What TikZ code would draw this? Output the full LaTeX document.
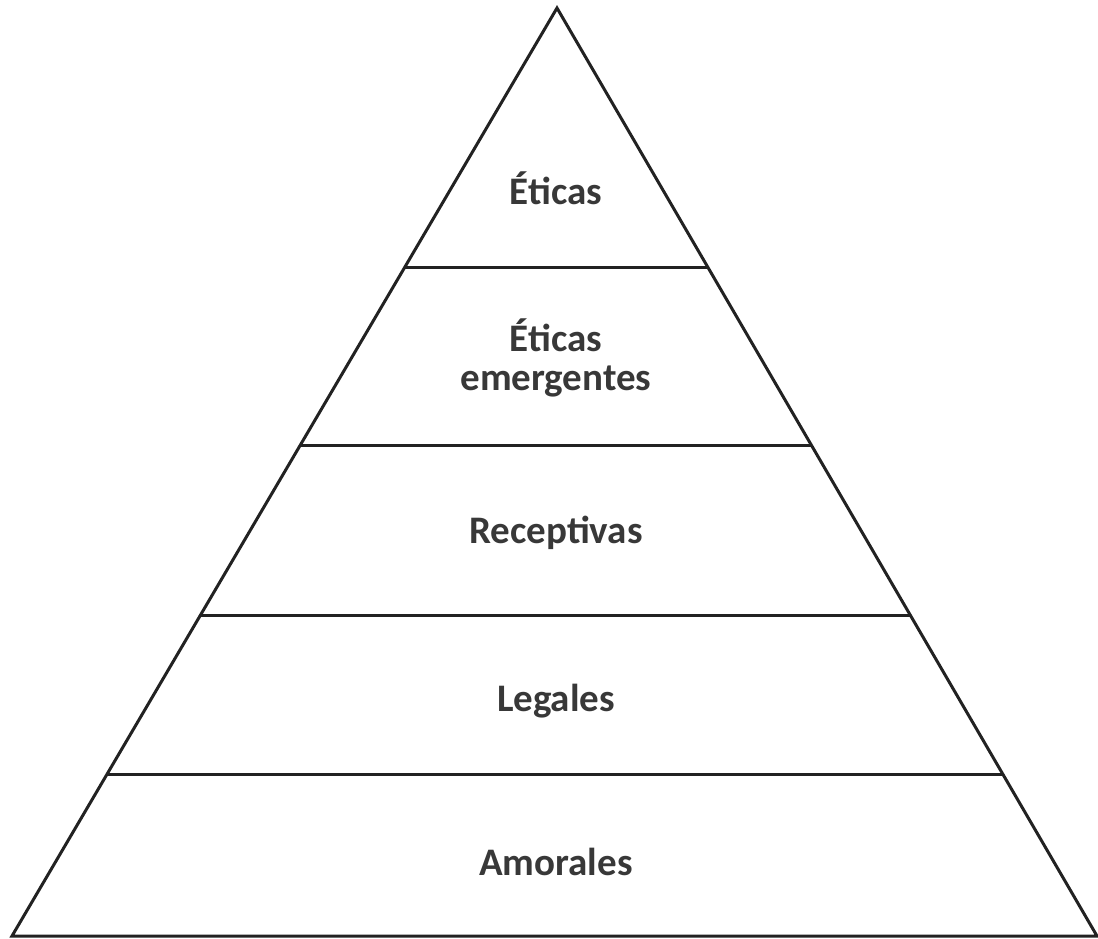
\documentclass[tikz,border=0pt]{standalone}
\usepackage{fontspec}
\setmainfont{Carlito}
\definecolor{txtgray}{HTML}{383838}
\definecolor{linegray}{HTML}{222222}
\begin{document}
\begin{tikzpicture}[x=0.5pt,y=-0.5pt,
	level/.style={font=\bfseries\fontsize{19.5}{19.5}\selectfont, text=txtgray, align=center},
	edge/.style={draw=linegray, line width=1.5pt}]
		\useasboundingbox (0,0) rectangle (1098,938);
		\coordinate (top) at (557,8);
		\coordinate (bl) at (12,936);
		\coordinate (br) at (1097,936);
		\draw[edge, line join=miter] (top) -- (bl) -- (br) -- cycle;
		
		\coordinate (l1) at (405,267);  \coordinate (r1) at (708,267);
		\coordinate (l2) at (300,445);  \coordinate (r2) at (811,445);
		\coordinate (l3) at (200,615);  \coordinate (r3) at (910,615);
		\coordinate (l4) at (107,774);  \coordinate (r4) at (1003,774);
		\draw[edge] (l1) -- (r1);
		\draw[edge] (l2) -- (r2);
		\draw[edge] (l3) -- (r3);
		\draw[edge] (l4) -- (r4);
		
		\node[level] (etic) at (556,188) {Éticas};
		\node[level] (emer) at (556,358) {Éticas\\emergentes};
		\node[level] (rece) at (556,533) {Receptivas};
		\node[level] (lega) at (556,701) {Legales};
		\node[level] (amor) at (556,862) {Amorales};
	\end{tikzpicture}
\end{document}
